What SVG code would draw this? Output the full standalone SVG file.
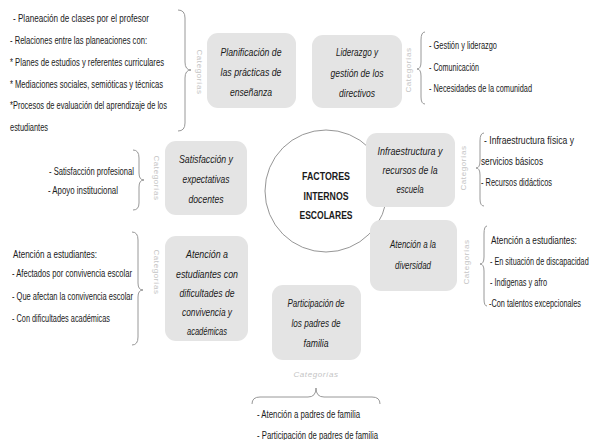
<svg xmlns="http://www.w3.org/2000/svg" width="594" height="440" viewBox="0 0 594 440">
<style>
.bg{fill:#ffffff}
.box{fill:#e4e4e4;stroke:none}
.bt{font-family:"Liberation Sans",Arial,sans-serif;font-size:11px;font-style:italic;fill:#1a1a1a;text-anchor:middle}
.ct{font-family:"Liberation Sans",Arial,sans-serif;font-size:10.5px;font-weight:bold;fill:#1a1a1a;text-anchor:middle}
.it{font-family:"Liberation Sans",Arial,sans-serif;font-size:10px;fill:#1a1a1a}
.cat{font-family:"Liberation Sans",Arial,sans-serif;font-size:8px;fill:#c4c4c4;text-anchor:middle;letter-spacing:0.6px}
.br{fill:none;stroke:#8c8c8c;stroke-width:0.9}
.circ{fill:#ffffff;stroke:#8a8a8a;stroke-width:0.9}
</style>
<rect class="bg" width="594" height="440"/>

<g id="connectors">
<path class="br" d="M178,10 Q185,10 185,18 L185,62 Q185,70 191,70 Q185,70 185,78 L185,123 Q185,131 178,131"/>
<path class="br" d="M425,32 Q421,32 421,40 L421,62 Q421,69 417,69 Q421,69 421,76 L421,97 Q421,104 425,104"/>
<path class="br" d="M133,150 Q139,150 139,158 L139,173 Q139,180 144,180 Q139,180 139,187 L139,203 Q139,210 133,210"/>
<path class="br" d="M484,133 Q480,133 480,141 L480,161 Q480,168 476,168 Q480,168 480,175 L480,199 Q480,206 484,206"/>
<path class="br" d="M487,226 Q484,226 484,234 L484,257 Q484,264 480,264 Q484,264 484,271 L484,299 Q484,306 487,306"/>
<path class="br" d="M132,232 Q138,232 138,240 L138,283 Q138,290 143,290 Q138,290 138,297 L138,337 Q138,345 132,345"/>
<path class="br" d="M252,404 Q252,397 260,397 L308,397 Q316,397 316,388 Q316,397 324,397 L372,397 Q380,397 380,404"/>
</g>

<g id="center">
<circle class="circ" cx="326" cy="191" r="61"/>
<text class="ct" x="326" y="180" textLength="48" lengthAdjust="spacingAndGlyphs">FACTORES</text>
<text class="ct" x="326" y="200" textLength="45" lengthAdjust="spacingAndGlyphs">INTERNOS</text>
<text class="ct" x="326" y="219" textLength="53" lengthAdjust="spacingAndGlyphs">ESCOLARES</text>
</g>

<g id="planificacion">
<rect class="box" x="207" y="33" width="89" height="75" rx="11"/>
<text class="bt" x="251" y="56" textLength="61" lengthAdjust="spacingAndGlyphs">Planificación de</text>
<text class="bt" x="251" y="76" textLength="61" lengthAdjust="spacingAndGlyphs">las prácticas de</text>
<text class="bt" x="251" y="96" textLength="42" lengthAdjust="spacingAndGlyphs">enseñanza</text>
<text class="cat" transform="translate(200,72) rotate(90)" y="3">Categorías</text>
<text class="it" x="13" y="21.5" textLength="136" lengthAdjust="spacingAndGlyphs">- Planeación de clases por el profesor</text>
<text class="it" x="10" y="43.5" textLength="137" lengthAdjust="spacingAndGlyphs">- Relaciones entre las planeaciones con:</text>
<text class="it" x="10" y="65.5" textLength="154" lengthAdjust="spacingAndGlyphs">* Planes de estudios y referentes curriculares</text>
<text class="it" x="10" y="87.5" textLength="153" lengthAdjust="spacingAndGlyphs">* Mediaciones sociales, semióticas y técnicas</text>
<text class="it" x="10" y="108.5" textLength="157" lengthAdjust="spacingAndGlyphs">*Procesos de evaluación del aprendizaje de los</text>
<text class="it" x="10" y="130.5" textLength="38" lengthAdjust="spacingAndGlyphs">estudiantes</text>
</g>

<g id="liderazgo">
<rect class="box" x="312" y="35" width="90" height="73" rx="11"/>
<text class="bt" x="357" y="56" textLength="42" lengthAdjust="spacingAndGlyphs">Liderazgo y</text>
<text class="bt" x="357" y="77" textLength="53" lengthAdjust="spacingAndGlyphs">gestión de los</text>
<text class="bt" x="357" y="97" textLength="36" lengthAdjust="spacingAndGlyphs">directivos</text>
<text class="cat" transform="translate(408,70) rotate(-90)" y="3">Categorías</text>
<text class="it" x="429" y="48.5" textLength="68" lengthAdjust="spacingAndGlyphs">- Gestión y liderazgo</text>
<text class="it" x="429" y="70.5" textLength="50" lengthAdjust="spacingAndGlyphs">- Comunicación</text>
<text class="it" x="429" y="91.5" textLength="103" lengthAdjust="spacingAndGlyphs">- Necesidades de la comunidad</text>
</g>

<g id="satisfaccion">
<rect class="box" x="165" y="141" width="82" height="74" rx="11"/>
<text class="bt" x="206" y="163" textLength="54" lengthAdjust="spacingAndGlyphs">Satisfacción y</text>
<text class="bt" x="206" y="183" textLength="47" lengthAdjust="spacingAndGlyphs">expectativas</text>
<text class="bt" x="206" y="203" textLength="35" lengthAdjust="spacingAndGlyphs">docentes</text>
<text class="cat" transform="translate(157,178) rotate(90)" y="3">Categorías</text>
<text class="it" x="49" y="174.5" textLength="85" lengthAdjust="spacingAndGlyphs">- Satisfacción profesional</text>
<text class="it" x="48" y="193.5" textLength="70" lengthAdjust="spacingAndGlyphs">- Apoyo institucional</text>
</g>

<g id="infraestructura">
<rect class="box" x="366" y="133" width="89" height="74" rx="11"/>
<text class="bt" x="410" y="155" textLength="65" lengthAdjust="spacingAndGlyphs">Infraestructura y</text>
<text class="bt" x="410" y="174" textLength="55" lengthAdjust="spacingAndGlyphs">recursos de la</text>
<text class="bt" x="410" y="193" textLength="27" lengthAdjust="spacingAndGlyphs">escuela</text>
<text class="cat" transform="translate(463,168) rotate(-90)" y="3">Categorías</text>
<text class="it" transform="translate(484,143.5) scale(0.75,1)" textLength="120" lengthAdjust="spacingAndGlyphs">- Infraestructura física y</text>
<text class="it" x="481" y="164.5" textLength="62" lengthAdjust="spacingAndGlyphs">servicios básicos</text>
<text class="it" x="481" y="185.5" textLength="71" lengthAdjust="spacingAndGlyphs">- Recursos didácticos</text>
</g>

<g id="diversidad">
<rect class="box" x="370" y="220" width="87" height="71" rx="11"/>
<text class="bt" x="413" y="248" textLength="46" lengthAdjust="spacingAndGlyphs">Atención a la</text>
<text class="bt" x="413" y="269" textLength="36" lengthAdjust="spacingAndGlyphs">diversidad</text>
<text class="cat" transform="translate(466,262) rotate(-90)" y="3">Categorías</text>
<text class="it" transform="translate(491,243.5) scale(0.78,1)" textLength="110" lengthAdjust="spacingAndGlyphs">Atención a estudiantes:</text>
<text class="it" transform="translate(490,264.5) scale(0.7,1)" textLength="141" lengthAdjust="spacingAndGlyphs">- En situación de discapacidad</text>
<text class="it" x="490" y="285.5" textLength="57" lengthAdjust="spacingAndGlyphs">-  Indigenas y afro</text>
<text class="it" transform="translate(489,306.5) scale(0.73,1)" textLength="126" lengthAdjust="spacingAndGlyphs">-Con talentos excepcionales</text>
</g>

<g id="convivencia">
<rect class="box" x="165" y="236" width="83" height="105" rx="11"/>
<text class="bt" x="207" y="258" textLength="42" lengthAdjust="spacingAndGlyphs">Atención a</text>
<text class="bt" x="207" y="278" textLength="62" lengthAdjust="spacingAndGlyphs">estudiantes con</text>
<text class="bt" x="207" y="297" textLength="55" lengthAdjust="spacingAndGlyphs">dificultades de</text>
<text class="bt" x="207" y="316" textLength="50" lengthAdjust="spacingAndGlyphs">convivencia y</text>
<text class="bt" x="207" y="335" textLength="40" lengthAdjust="spacingAndGlyphs">académicas</text>
<text class="cat" transform="translate(157,272) rotate(90)" y="3">Categorías</text>
<text class="it" x="13" y="257.5" textLength="84" lengthAdjust="spacingAndGlyphs">Atención a estudiantes:</text>
<text class="it" x="12" y="277" textLength="120" lengthAdjust="spacingAndGlyphs">- Afectados por convivencia escolar</text>
<text class="it" x="12" y="299.5" textLength="121" lengthAdjust="spacingAndGlyphs">- Que afectan la convivencia escolar</text>
<text class="it" x="12" y="321.5" textLength="98" lengthAdjust="spacingAndGlyphs">- Con dificultades académicas</text>
</g>

<g id="participacion">
<rect class="box" x="272" y="285" width="89" height="75" rx="11"/>
<text class="bt" x="316" y="307" textLength="57" lengthAdjust="spacingAndGlyphs">Participación de</text>
<text class="bt" x="316" y="327" textLength="49" lengthAdjust="spacingAndGlyphs">los padres de</text>
<text class="bt" x="316" y="347" textLength="25" lengthAdjust="spacingAndGlyphs">familia</text>
<text class="cat" x="316" y="377" font-style="italic">Categorías</text>
<text class="it" x="257" y="417.5" textLength="103" lengthAdjust="spacingAndGlyphs">- Atención a padres de familia</text>
<text class="it" x="257" y="438.5" textLength="121" lengthAdjust="spacingAndGlyphs">-  Participación de padres de familia</text>
</g>
</svg>
